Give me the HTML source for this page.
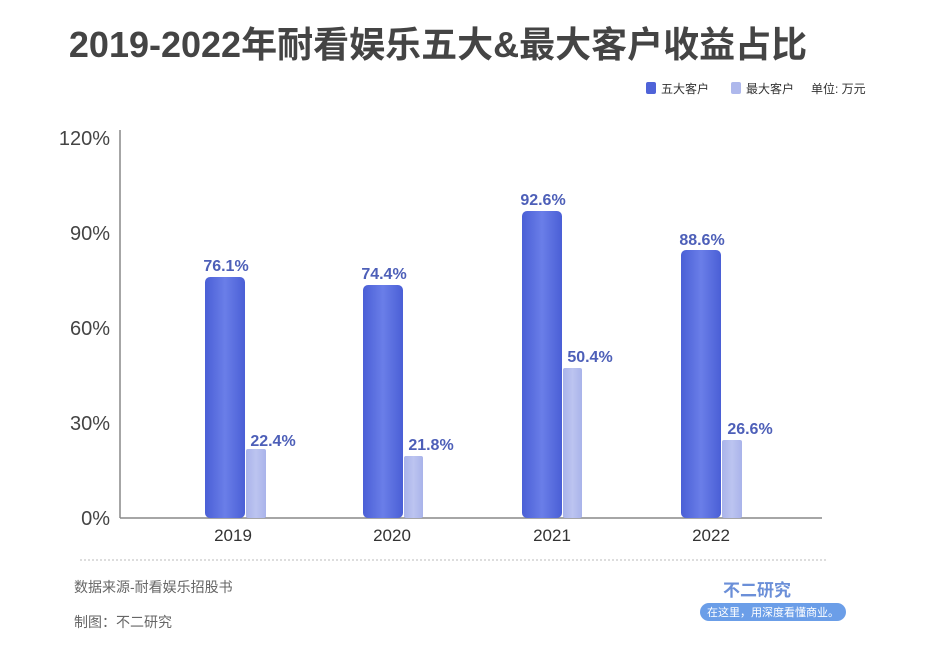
<!DOCTYPE html>
<html><head><meta charset="utf-8"><style>
body{margin:0;background:#fff;}
svg text{font-family:"Liberation Sans","Noto Sans CJK SC",sans-serif;}
</style></head><body>
<svg width="940" height="644" viewBox="0 0 940 644" xmlns="http://www.w3.org/2000/svg">
<defs>
<linearGradient id="g1" x1="0" x2="1" y1="0" y2="0">
<stop offset="0" stop-color="#4a5fd6"/><stop offset="0.5" stop-color="#6a7ee8"/><stop offset="1" stop-color="#4a5fd6"/></linearGradient>
<linearGradient id="g2" x1="0" x2="1" y1="0" y2="0">
<stop offset="0" stop-color="#a9b3ea"/><stop offset="0.5" stop-color="#bcc4f0"/><stop offset="1" stop-color="#a9b3ea"/></linearGradient>
</defs>
<rect width="940" height="644" fill="#fff"/>
<text x="438" y="57" text-anchor="middle" font-size="36" font-weight="bold" fill="#444">2019-2022年耐看娱乐五大&amp;最大客户收益占比</text>
<rect x="646" y="82" width="10" height="12" rx="2" fill="#4f63d8"/>
<text x="661" y="93" font-size="12" fill="#333">五大客户</text>
<rect x="731" y="82" width="10" height="12" rx="2" fill="#aeb8ec"/>
<text x="746" y="93" font-size="12" fill="#333">最大客户</text>
<text x="811" y="93" font-size="12" fill="#333">单位: 万元</text>
<g font-size="20" fill="#444" text-anchor="end">
<text x="110" y="145">120%</text><text x="110" y="240">90%</text><text x="110" y="335">60%</text><text x="110" y="430">30%</text><text x="110" y="525">0%</text>
</g>
<line x1="120" y1="130" x2="120" y2="518" stroke="#888" stroke-width="1.5"/>
<line x1="120" y1="518" x2="822" y2="518" stroke="#888" stroke-width="1.5"/>
<g>
<rect x="205" y="277" width="40" height="241" rx="5" fill="url(#g1)"/>
<rect x="246" y="449" width="20" height="69" rx="2" fill="url(#g2)"/>
<rect x="363" y="285" width="40" height="233" rx="5" fill="url(#g1)"/>
<rect x="404" y="456" width="19" height="62" rx="2" fill="url(#g2)"/>
<rect x="522" y="211" width="40" height="307" rx="5" fill="url(#g1)"/>
<rect x="563" y="368" width="19" height="150" rx="2" fill="url(#g2)"/>
<rect x="681" y="250" width="40" height="268" rx="5" fill="url(#g1)"/>
<rect x="722" y="440" width="20" height="78" rx="2" fill="url(#g2)"/>
</g>
<g font-size="16" font-weight="bold" fill="#4d5fb8" text-anchor="middle">
<text x="226" y="271">76.1%</text><text x="273" y="446">22.4%</text>
<text x="384" y="279">74.4%</text><text x="431" y="450">21.8%</text>
<text x="543" y="205">92.6%</text><text x="590" y="362">50.4%</text>
<text x="702" y="245">88.6%</text><text x="750" y="434">26.6%</text>
</g>
<g font-size="17" fill="#333" text-anchor="middle">
<text x="233" y="541">2019</text><text x="392" y="541">2020</text><text x="552" y="541">2021</text><text x="711" y="541">2022</text>
</g>
<line x1="80" y1="560" x2="828" y2="560" stroke="#bbb" stroke-dasharray="2,2"/>
<text x="74" y="592" font-size="14" fill="#666">数据来源-耐看娱乐招股书</text>
<text x="74" y="627" font-size="14" fill="#666">制图：不二研究</text>
<text x="757" y="596" font-size="17" fill="#6b8fd8" text-anchor="middle" font-weight="bold">不二研究</text>
<rect x="700" y="603" width="146" height="18" rx="9" fill="#6b9ee8"/>
<text x="773" y="616" font-size="11" fill="#fff" text-anchor="middle">在这里，用深度看懂商业。</text>
</svg>
</body></html>
